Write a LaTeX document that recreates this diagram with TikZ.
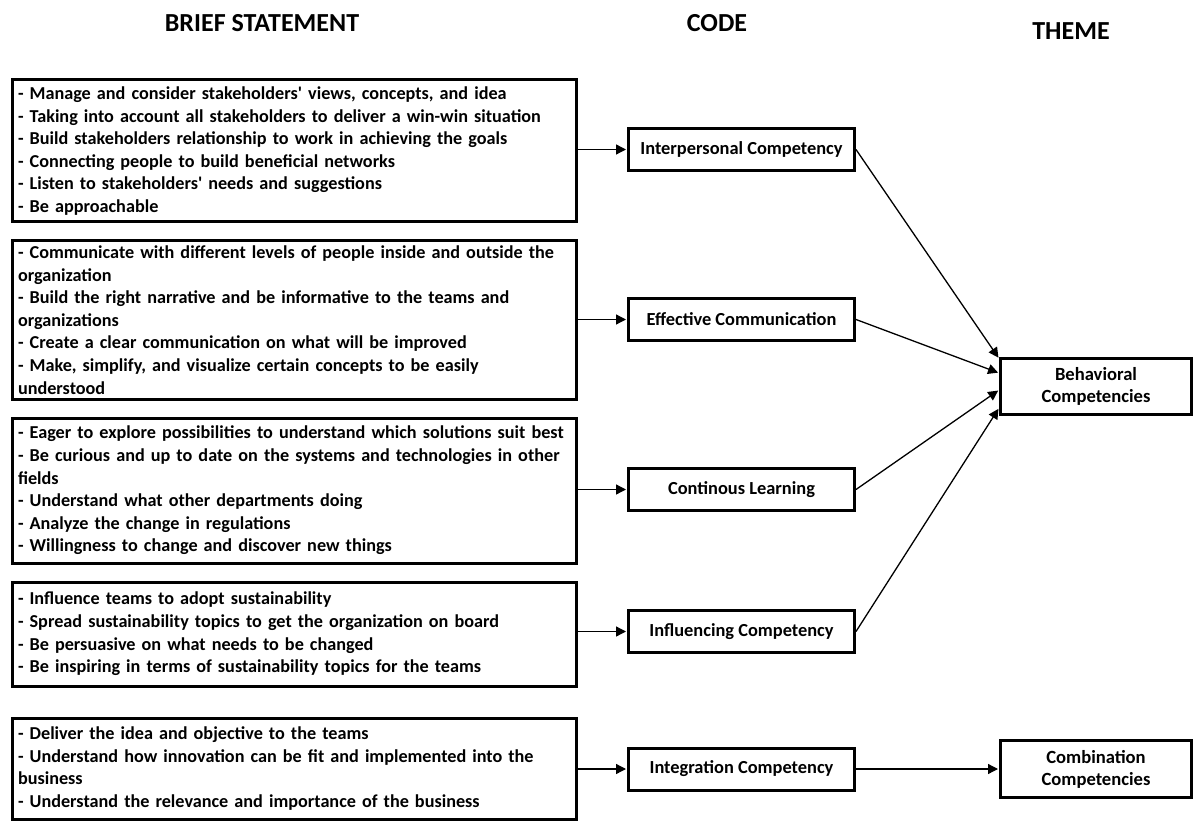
\documentclass[tikz,border=0pt]{standalone}
\usepackage{fontspec}
\setmainfont{Carlito}[Ligatures=TeXOff]
\usetikzlibrary{arrows.meta}
\begin{document}
\begin{tikzpicture}[x=1pt,y=-1pt,
  stmt/.style={draw, line width=3pt, anchor=north west, text width=552pt, inner xsep=6pt, inner ysep=0pt, align=left, font=\bfseries\fontsize{18.2}{22.6}\selectfont},
  codebox/.style={draw, line width=3pt, minimum width=226pt, minimum height=42pt, inner sep=0pt, font=\bfseries\fontsize{18.4}{20}\selectfont},
  themebox/.style={draw, line width=3pt, minimum width=191pt, inner sep=0pt, align=center, font=\bfseries\fontsize{18.6}{22}\selectfont},
  header/.style={font=\bfseries\fontsize{26}{30}\selectfont, inner sep=0pt},
  arr/.style={line width=1.3pt, -{Triangle[length=10pt,width=10pt]}, shorten >=1pt},
  dline/.style={line width=1.3pt, -{Triangle[length=10pt,width=10pt]}, shorten >=1pt}
]
\useasboundingbox (0,0) rectangle (1200,821);

% headers
\node[header] (h1) at (262,23) {BRIEF STATEMENT};
\node[header] (h2) at (717,23) {CODE};
\node[header] (h3) at (1071,31) {THEME};

% statement boxes
\node[stmt, minimum height=142pt] (s1) at (10.5,78.5) {- Manage and consider stakeholders' views, concepts, and idea\\
- Taking into account all stakeholders to deliver a win-win situation\\
- Build stakeholders relationship to work in achieving the goals\\
- Connecting people to build beneficial networks\\
- Listen to stakeholders' needs and suggestions\\
- Be approachable};

\node[stmt, minimum height=158pt] (s2) at (10.5,239.5) {- Communicate with different levels of people inside and outside the\\
organization\\
- Build the right narrative and be informative to the teams and\\
organizations\\
- Create a clear communication on what will be improved\\
- Make, simplify, and visualize certain concepts to be easily\\
understood};

\node[stmt, minimum height=145pt] (s3) at (10.5,416.5) {- Eager to explore possibilities to understand which solutions suit best\\
- Be curious and up to date on the systems and technologies in other\\
fields\\
- Understand what other departments doing\\
- Analyze the change in regulations\\
- Willingness to change and discover new things};

\node[stmt, minimum height=104pt] (s4) at (10.5,580.5) {- Influence teams to adopt sustainability\\
- Spread sustainability topics to get the organization on board\\
- Be persuasive on what needs to be changed\\
- Be inspiring in terms of sustainability topics for the teams};

\node[stmt, minimum height=101pt] (s5) at (10.5,716.5) {- Deliver the idea and objective to the teams\\
- Understand how innovation can be fit and implemented into the\\
business\\
- Understand the relevance and importance of the business};

% code boxes
\node[codebox] (c1) at (741.5,149.5) {Interpersonal Competency};
\node[codebox] (c2) at (741.5,319.5) {Effective Communication};
\node[codebox] (c3) at (741.5,489.5) {Continous Learning};
\node[codebox] (c4) at (741.5,631.5) {Influencing Competency};
\node[codebox] (c5) at (741.5,769) {Integration Competency};

% theme boxes
\node[themebox, minimum height=56pt] (t1) at (1096,386.5) {Behavioral\\Competencies};
\node[themebox, minimum height=57pt] (t2) at (1096,769) {Combination\\Competencies};

% statement -> code
\draw[arr] (s1.east |- c1.west) -- (c1.west);
\draw[arr] (s2.east |- c2.west) -- (c2.west);
\draw[arr] (s3.east |- c3.west) -- (c3.west);
\draw[arr] (s4.east |- c4.west) -- (c4.west);
\draw[arr] (s5.east |- c5.west) -- (c5.west);

% code -> theme
\draw[dline] (c1.east) -- ([yshift=28pt]t1.west);
\draw[dline] (c2.east) -- ([yshift=13.5pt]t1.west);
\draw[dline] (c3.east) -- ([yshift=-3.5pt]t1.west);
\draw[dline] (c4.east) -- ([yshift=-21.5pt]t1.west);
\draw[arr] (c5.east) -- (t2.west |- c5.east);
\end{tikzpicture}
\end{document}
